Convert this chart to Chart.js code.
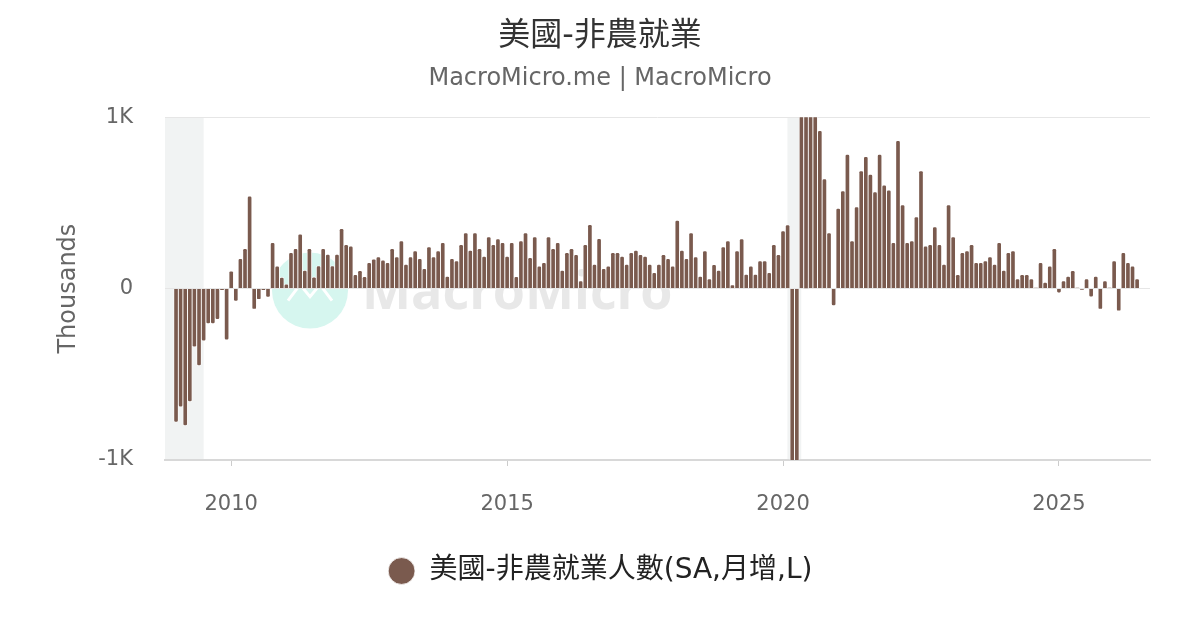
<!DOCTYPE html>
<html>
<head>
<meta charset="utf-8">
<script src="https://cdn.jsdelivr.net/npm/chart.js@4.4.0/dist/chart.umd.min.js"></script>
<style>
  html, body { margin: 0; padding: 0; background: #fff; }
</style>
</head>
<body>
<canvas id="nfpChart" width="1200" height="630"></canvas>
<script>
// monthly change, thousands, Jan 2009 .. Jun 2026
const startYear = 2009;
const nfpChange = [
  -780, -690, -800, -660, -340, -450, -305, -205, -205, -180, -10, -300,
  103, -74, 175, 234, 540, -121, -64, -10, -50, 269, 131, 66,
  27, 210, 234, 318, 107, 234, 68, 133, 234, 200, 133, 200,
  350, 257, 248, 82, 105, 70, 152, 173, 185, 166, 152, 234,
  185, 279, 142, 185, 220, 175, 117, 244, 185, 220, 269, 72,
  175, 162, 257, 325, 224, 325, 234, 189, 302, 257, 290, 269,
  189, 269, 70, 279, 325, 181, 302, 131, 152, 302, 234, 269,
  107, 210, 234, 199, 45, 257, 374, 142, 292, 117, 131, 210,
  210, 189, 142, 210, 224, 199, 189, 142, 94, 142, 199, 175,
  131, 398, 224, 175, 325, 185, 72, 220, 57, 140, 107, 244,
  279, 23, 220, 290, 84, 131, 84, 162, 162, 94, 257, 199,
  337, 372, -1373, -20493, 2725, 4505, 1726, 1583, 922, 641, 325, -100,
  468, 571, 784, 279, 478, 688, 770, 667, 565, 784, 604, 575,
  269, 864, 489, 269, 279, 419, 688, 248, 257, 361, 257, 142,
  489, 302, 82, 210, 220, 257, 152, 152, 162, 185, 142, 269,
  107, 210, 220, 57, 82, 82, 57, 5, 152, 37, 131, 234,
  -25, 45, 72, 105, 5, -8, 57, -49, 72, -121, 45, 5,
  162, -131, 210, 152, 131, 57
];
const xTickYears = [2010, 2015, 2020, 2025];
const yTickValues = [-1000, 0, 1000];
const yTickLabels = ['-1K', '0', '1K'];
const recessionStart = [2007.92, 2020.08];
const recessionEnd = [2009.5, 2020.33];

const seriesName = '美國-非農就業人數(SA,月增,L)';
const brown = '#7a5a4e';
const fontFam = "'DejaVu Sans', 'Noto Sans CJK TC', sans-serif";

const points = nfpChange.map((v, i) => ({ x: startYear + i / 12, y: v }));

const backdrop = {
  id: 'backdrop',
  beforeDraw(chart) {
    const { ctx, chartArea: a, scales: { x } } = chart;
    ctx.save();
    ctx.fillStyle = '#fff';
    ctx.fillRect(0, 0, chart.width, chart.height);
    // recession bands
    ctx.fillStyle = '#f1f3f3';
    recessionStart.forEach((s, i) => {
      const l = Math.max(a.left, x.getPixelForValue(s));
      const r = Math.min(a.right, x.getPixelForValue(recessionEnd[i]));
      if (r > l) ctx.fillRect(l, a.top, r - l, a.bottom - a.top);
    });
    // watermark
    const cy = a.top + (a.bottom - a.top) * 0.5;
    ctx.fillStyle = '#d6f6ef';
    ctx.beginPath();
    ctx.arc(310, cy + 2, 38, 0, Math.PI * 2);
    ctx.fill();
    ctx.strokeStyle = '#fff';
    ctx.lineWidth = 3;
    ctx.beginPath();
    ctx.moveTo(288, cy + 12);
    ctx.lineTo(300, cy - 4);
    ctx.lineTo(310, cy + 8);
    ctx.lineTo(320, cy - 4);
    ctx.lineTo(332, cy + 12);
    ctx.stroke();
    ctx.fillStyle = '#e8e8e8';
    ctx.font = "bold 50px 'Open Sans', sans-serif";
    const w = ctx.measureText('MacroMicro').width;
    ctx.font = `bold ${Math.round(50 * 313 / w)}px 'Open Sans', sans-serif`;
    ctx.textBaseline = 'middle';
    ctx.fillText('MacroMicro', 362, cy + 6);
    ctx.restore();
  }
};

new Chart(document.getElementById('nfpChart'), {
  type: 'bar',
  data: {
    datasets: [{
      label: seriesName,
      data: points,
      backgroundColor: brown,
      borderColor: '#fff',
      borderWidth: 0.8,
      borderRadius: 2,
      barPercentage: 1,
      categoryPercentage: 1,
      clip: 0
    }]
  },
  options: {
    responsive: false,
    animation: false,
    layout: { padding: { left: 0, right: 0, top: 0, bottom: 35 } },
    plugins: {
      title: {
        display: true,
        text: '美國-非農就業',
        color: '#333',
        font: { family: fontFam, size: 32, weight: 'normal' },
        padding: { top: 17, bottom: 0 }
      },
      subtitle: {
        display: true,
        text: 'MacroMicro.me | MacroMicro',
        color: '#666',
        font: { family: fontFam, size: 24 },
        padding: { top: 9, bottom: 24 }
      },
      legend: {
        position: 'bottom',
        labels: {
          usePointStyle: true,
          pointStyle: 'circle',
          boxHeight: 19,
          color: '#222',
          font: { family: fontFam, size: 28 },
          padding: 10
        }
      },
      tooltip: { enabled: false }
    },
    scales: {
      x: {
        type: 'linear',
        offset: false,
        min: 2008.8,
        max: 2026.65,
        afterBuildTicks: s => { s.ticks = xTickYears.map(v => ({ value: v })); },
        afterFit: s => { s.height = 87; },
        ticks: {
          color: '#666',
          font: { family: fontFam, size: 21 },
          padding: 26,
          maxRotation: 0,
          callback: v => String(v)
        },
        grid: { drawOnChartArea: false, offset: false, tickLength: 6, color: '#ccc' },
        border: { color: '#d8d8d8', width: 2 }
      },
      y: {
        min: -1000,
        max: 1000,
        afterBuildTicks: s => { s.ticks = yTickValues.map(v => ({ value: v })); },
        afterFit: s => { s.width = 165; },
        ticks: {
          color: '#666',
          font: { family: fontFam, size: 21 },
          padding: 32,
          callback: v => yTickLabels[yTickValues.indexOf(v)]
        },
        grid: { color: '#e6e6e6', drawTicks: false },
        border: { display: false },
        title: {
          display: true,
          text: 'Thousands',
          color: '#666',
          font: { family: fontFam, size: 24 },
          padding: { top: 54, bottom: 0 }
        }
      },
      // empty right margin so the legend stays centred on the page
      yPad: {
        position: 'right',
        afterFit: s => { s.width = 50; },
        ticks: { display: false },
        grid: { display: false },
        border: { display: false }
      }
    }
  },
  plugins: [backdrop]
});
</script>
</body>
</html>
